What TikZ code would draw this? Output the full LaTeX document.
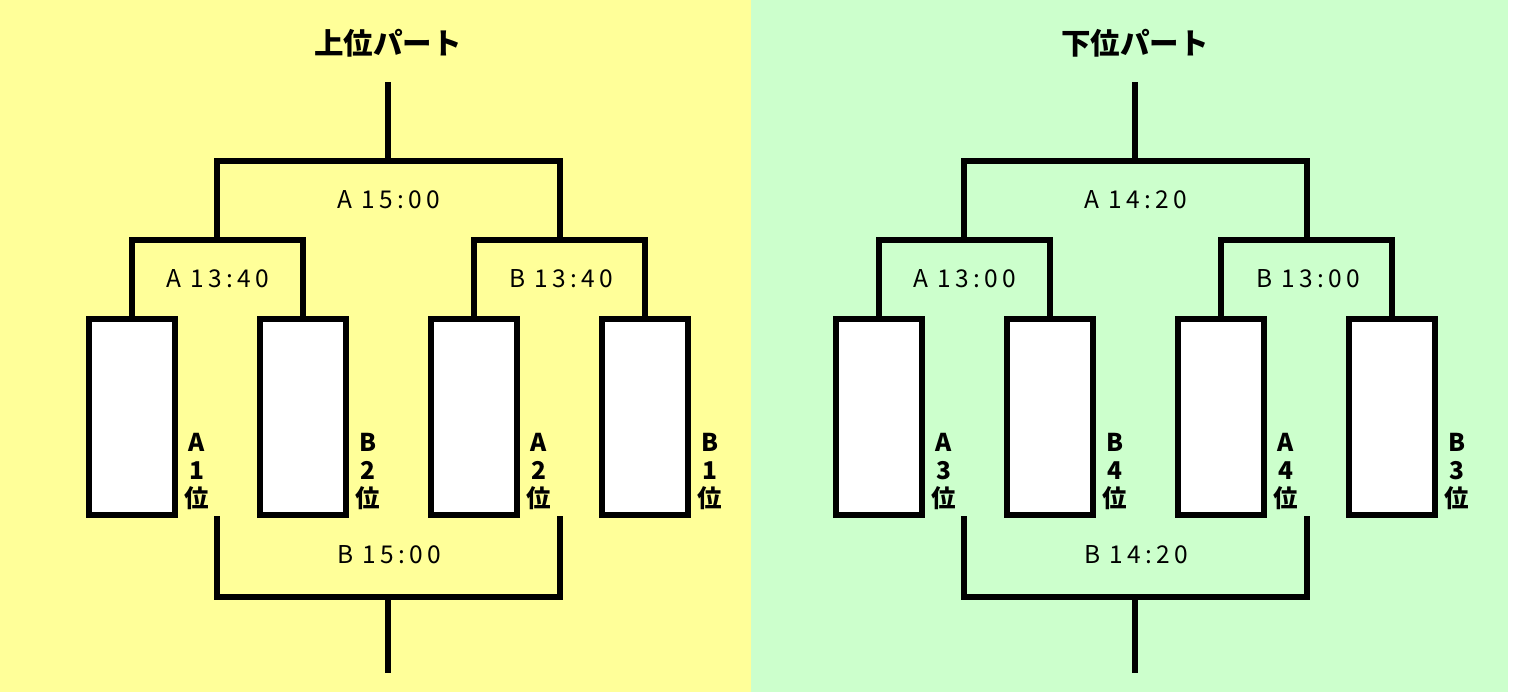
\documentclass[tikz,border=0pt]{standalone}
\usepackage{fontspec}
\setmainfont{Noto Sans CJK JP}
\newfontfamily\jpfont{Noto Sans CJK JP}
\newfontfamily\timefont[LetterSpace=18]{Noto Sans CJK JP}
\definecolor{bgyellow}{HTML}{FFFF99}
\definecolor{bggreen}{HTML}{CCFFCC}
\tikzset{
  wire/.style={line width=5.6pt, line join=miter, line cap=butt},
  teambox/.style={draw, fill=white, line width=5.6pt, minimum width=86.5pt, minimum height=196.5pt, inner sep=0pt},
  timelbl/.style={font=\timefont\fontsize{24.5}{24.5}\selectfont, inner sep=0pt},
  ranklbl/.style={font=\jpfont\bfseries\fontsize{24.5}{28}\selectfont, align=center, inner sep=0pt},
  titlelbl/.style={font=\jpfont\bfseries\fontsize{29.5}{30}\selectfont, inner sep=0pt}
}
\newcommand\tlbl[2]{\mbox{#1}\hspace{9pt}\mbox{#2}}
\newcommand\bracketpanel[8]{%
  \begin{scope}[xshift=#2pt]
    \node[titlelbl] (#1title) at (388,43) {#3};
    \node[teambox] (#1b1) at (132,417) {};
    \node[teambox] (#1b2) at (303,417) {};
    \node[teambox] (#1b3) at (474,417) {};
    \node[teambox] (#1b4) at (645,417) {};
    \coordinate (#1m12) at (217,240);
    \coordinate (#1m34) at (560,240);
    \coordinate (#1top) at (388,161);
    \coordinate (#1t0) at (388,82);
    \coordinate (#1bl) at (217,516);
    \coordinate (#1br) at (560,516);
    \coordinate (#1bot) at (388,597);
    \coordinate (#1b0) at (388,673);
    \draw[wire] (#1b1.north) |- (#1m12) -| (#1b2.north);
    \draw[wire] (#1b3.north) |- (#1m34) -| (#1b4.north);
    \draw[wire] (#1m12) |- (#1top) -| (#1m34);
    \draw[wire] (#1top) -- (#1t0);
    \draw[wire] (#1bl) |- (#1bot) -| (#1br);
    \draw[wire] (#1bot) -- (#1b0);
    \node[timelbl] (#1ltop) at (389,200) {#4};
    \node[timelbl] (#1lleft) at (218,279) {#5};
    \node[timelbl] (#1lright) at (561,279) {#6};
    \node[timelbl] (#1lbot) at (389,555) {#7};
    #8
  \end{scope}
}
\begin{document}
\begin{tikzpicture}[x=1pt,y=-1pt]
  \useasboundingbox (0,0) rectangle (1517,692);
  \fill[bgyellow] (0,0) rectangle (751,692);
  \fill[bggreen] (751,0) rectangle (1508,692);
  \bracketpanel{u}{0}{上位パート}{\tlbl{A}{15:00}}{\tlbl{A}{13:40}}{\tlbl{B}{13:40}}{\tlbl{B}{15:00}}{%
    \node[ranklbl] (ur1) at (197,471) {A\\1\\位};
    \node[ranklbl] (ur2) at (368,471) {B\\2\\位};
    \node[ranklbl] (ur3) at (539,471) {A\\2\\位};
    \node[ranklbl] (ur4) at (710,471) {B\\1\\位};
  }
  \bracketpanel{l}{747}{下位パート}{\tlbl{A}{14:20}}{\tlbl{A}{13:00}}{\tlbl{B}{13:00}}{\tlbl{B}{14:20}}{%
    \node[ranklbl] (lr1) at (197,471) {A\\3\\位};
    \node[ranklbl] (lr2) at (368,471) {B\\4\\位};
    \node[ranklbl] (lr3) at (539,471) {A\\4\\位};
    \node[ranklbl] (lr4) at (710,471) {B\\3\\位};
  }
\end{tikzpicture}
\end{document}
